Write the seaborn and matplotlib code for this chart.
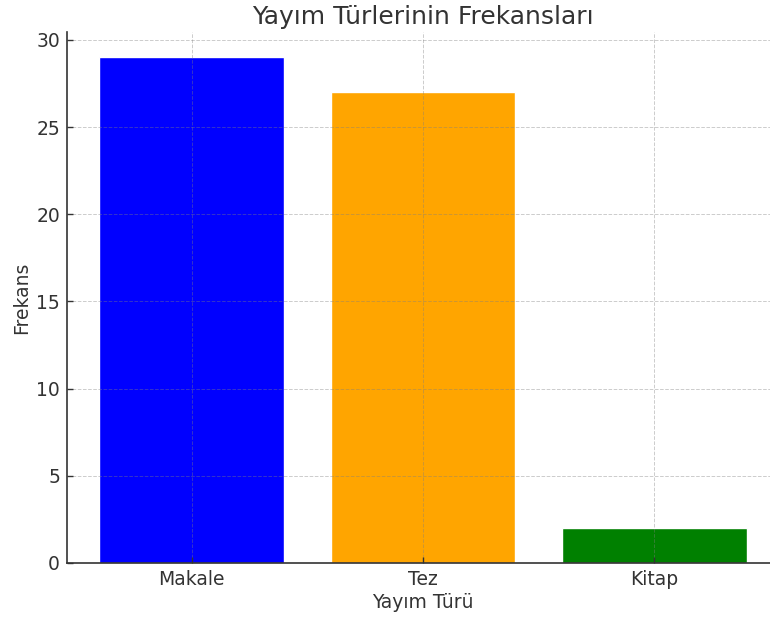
import matplotlib
matplotlib.use("Agg")
import matplotlib.pyplot as plt
import seaborn as sns
import pandas as pd

categories = ["Makale", "Tez", "Kitap"]
values = [29, 27, 2]
colors = ["blue", "orange", "green"]

sns.set_style("white")
plt.rcParams['font.family'] = ['DejaVu Sans']

df = pd.DataFrame({"Yayım Türü": categories, "Frekans": values})

fig = plt.figure(figsize=(7.7, 6.18), dpi=100)
W, H = 770, 618
ax = fig.add_axes([67 / W, (H - 563) / H, (779 - 67) / W, (563 - 32) / H])

sns.barplot(data=df, x="Yayım Türü", y="Frekans", hue="Yayım Türü",
            palette=colors, width=0.8, saturation=1, legend=False, ax=ax)

ax.set_xlim(-0.54, 2.54)
ax.set_ylim(0, 30.45)
ax.set_axisbelow(False)
ax.xaxis.set_zorder(5)
ax.yaxis.set_zorder(5)
ax.grid(True, linestyle="--", color="gray", linewidth=0.7, alpha=0.4)
for s in ["top", "right"]:
    ax.spines[s].set_visible(False)
for s in ["left", "bottom"]:
    ax.spines[s].set_color("#333333")
    ax.spines[s].set_linewidth(1.2)
    ax.spines[s].set_zorder(6)
ax.tick_params(axis="both", labelsize=13.5, colors="#333333", length=4, width=1,
               direction="in", left=True, bottom=True, pad=5)
ax.set_xlabel("Yayım Türü", fontsize=13.5, color="#333333", labelpad=3)
ax.set_ylabel("Frekans", fontsize=13.5, color="#333333", labelpad=4)
ax.set_title("Yayım Türlerinin Frekansları", fontsize=18, color="#333333", pad=6)

fig.savefig("out.png", dpi=100)
